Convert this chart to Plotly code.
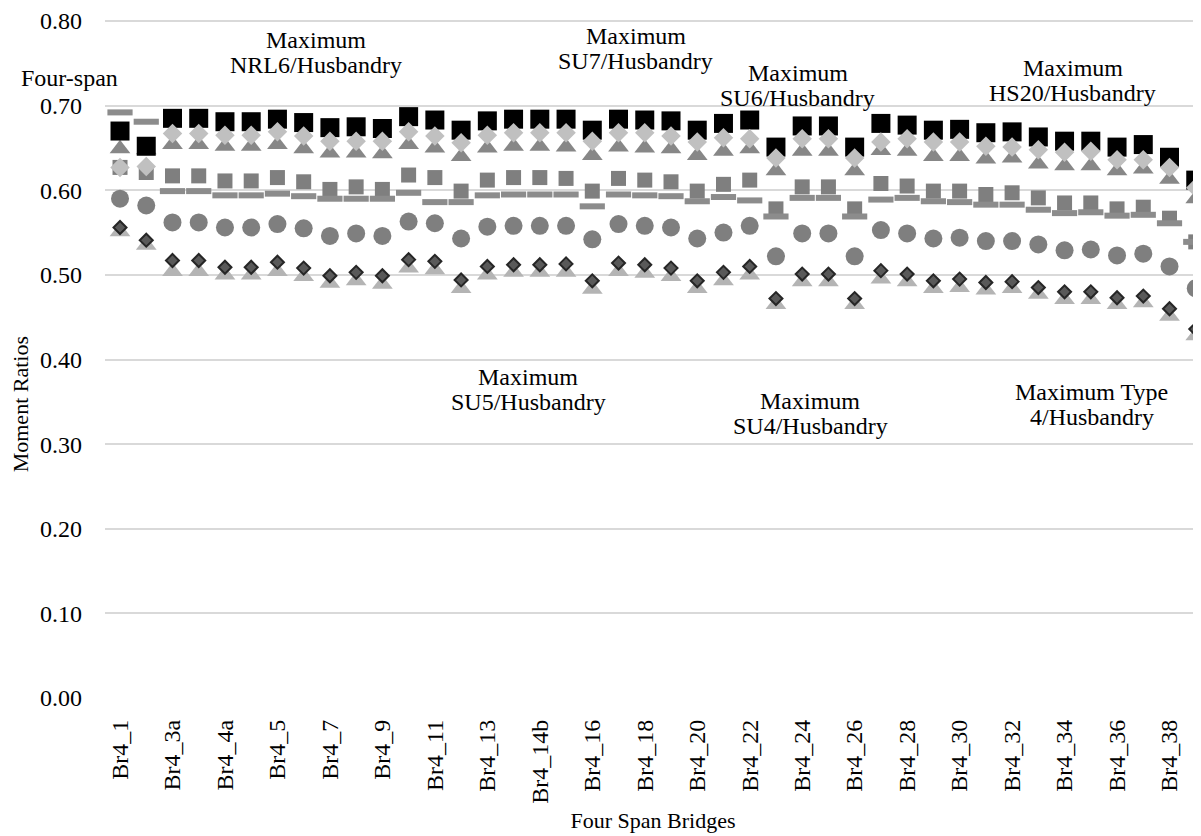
"""Moment ratios for four-span bridges, one marker series per truck / husbandry case."""

import plotly.graph_objects as go

FONT = "Liberation Serif, Times New Roman, serif"
FONT_SIZE = 24
TITLE_SIZE = 22

bridges = [
    "Br4_1", "Br4_2", "Br4_3a", "Br4_3b", "Br4_4a", "Br4_4b", "Br4_5", "Br4_6",
    "Br4_7", "Br4_8", "Br4_9", "Br4_10", "Br4_11", "Br4_12", "Br4_13",
    "Br4_14a", "Br4_14b", "Br4_15", "Br4_16", "Br4_17", "Br4_18", "Br4_19",
    "Br4_20", "Br4_21", "Br4_22", "Br4_23", "Br4_24", "Br4_25", "Br4_26",
    "Br4_27", "Br4_28", "Br4_29", "Br4_30", "Br4_31", "Br4_32", "Br4_33",
    "Br4_34", "Br4_35", "Br4_36", "Br4_37", "Br4_38", "Br4_39",
]

# series values
nrl6 = [0.670, 0.652, 0.685, 0.685, 0.681, 0.681, 0.684, 0.680, 0.674, 0.675,
        0.673, 0.687, 0.683, 0.671, 0.682, 0.684, 0.684, 0.684, 0.671, 0.684,
        0.683, 0.682, 0.671, 0.679, 0.683, 0.651, 0.676, 0.676, 0.651, 0.679,
        0.677, 0.671, 0.672, 0.668, 0.669, 0.663, 0.658, 0.658, 0.651, 0.654,
        0.639, 0.612]
su7 = [0.627, 0.628, 0.667, 0.667, 0.665, 0.665, 0.669, 0.664, 0.658, 0.658,
       0.658, 0.669, 0.664, 0.656, 0.665, 0.668, 0.668, 0.668, 0.658, 0.668,
       0.668, 0.664, 0.657, 0.662, 0.661, 0.638, 0.661, 0.661, 0.638, 0.657,
       0.661, 0.657, 0.657, 0.652, 0.651, 0.648, 0.645, 0.646, 0.636, 0.636,
       0.627, 0.603]
su6 = [0.649, 0.648, 0.654, 0.654, 0.652, 0.652, 0.654, 0.649, 0.644, 0.644,
       0.643, 0.654, 0.650, 0.640, 0.650, 0.652, 0.652, 0.651, 0.641, 0.651,
       0.650, 0.649, 0.641, 0.646, 0.649, 0.623, 0.646, 0.646, 0.623, 0.647,
       0.646, 0.640, 0.640, 0.637, 0.638, 0.631, 0.629, 0.629, 0.623, 0.625,
       0.613, 0.590]
hs20 = [0.627, 0.621, 0.617, 0.617, 0.611, 0.611, 0.615, 0.610, 0.601, 0.604,
        0.601, 0.618, 0.615, 0.599, 0.612, 0.615, 0.615, 0.614, 0.599, 0.614,
        0.612, 0.610, 0.599, 0.607, 0.612, 0.578, 0.604, 0.604, 0.578, 0.608,
        0.605, 0.599, 0.599, 0.595, 0.597, 0.591, 0.585, 0.585, 0.578, 0.580,
        0.567, 0.539]
four_span = [0.692, 0.681, 0.599, 0.599, 0.594, 0.594, 0.596, 0.593, 0.590, 0.590,
             0.590, 0.597, 0.586, 0.586, 0.594, 0.595, 0.595, 0.595, 0.581, 0.595,
             0.594, 0.593, 0.587, 0.592, 0.588, 0.569, 0.591, 0.591, 0.569, 0.589,
             0.591, 0.587, 0.586, 0.583, 0.583, 0.577, 0.573, 0.574, 0.570, 0.571,
             0.561, 0.539]
su5 = [0.590, 0.582, 0.562, 0.562, 0.556, 0.556, 0.560, 0.555, 0.546, 0.549,
       0.546, 0.563, 0.561, 0.543, 0.557, 0.558, 0.558, 0.558, 0.542, 0.560,
       0.558, 0.556, 0.543, 0.550, 0.558, 0.522, 0.549, 0.549, 0.522, 0.553,
       0.549, 0.543, 0.544, 0.540, 0.540, 0.536, 0.529, 0.530, 0.523, 0.525,
       0.510, 0.484]
su4 = [0.556, 0.541, 0.517, 0.517, 0.509, 0.509, 0.515, 0.508, 0.499, 0.503,
       0.499, 0.518, 0.516, 0.494, 0.510, 0.512, 0.512, 0.513, 0.493, 0.514,
       0.512, 0.508, 0.493, 0.503, 0.510, 0.472, 0.501, 0.501, 0.472, 0.505,
       0.501, 0.493, 0.495, 0.491, 0.492, 0.485, 0.480, 0.480, 0.473, 0.475,
       0.460, 0.436]
type4 = [0.551, 0.535, 0.504, 0.504, 0.500, 0.500, 0.504, 0.498, 0.490, 0.493,
         0.489, 0.508, 0.506, 0.484, 0.500, 0.503, 0.503, 0.503, 0.483, 0.504,
         0.502, 0.498, 0.484, 0.493, 0.500, 0.465, 0.492, 0.492, 0.465, 0.495,
         0.492, 0.484, 0.485, 0.482, 0.484, 0.477, 0.471, 0.471, 0.465, 0.467,
         0.451, 0.428]

# (name, values, symbol, size, fill, outline colour, outline width) — drawn bottom to top
SERIES = [
    ("Maximum Type 4/Husbandry", type4, "triangle-up", 18, "#b4b4b4", "#b4b4b4", 0),
    ("Maximum SU4/Husbandry", su4, "diamond", 10, "#595959", "#262626", 2),
    ("Maximum SU5/Husbandry", su5, "circle", 18, "#7f7f7f", "#7f7f7f", 0),
    ("Maximum HS20/Husbandry", hs20, "square", 15, "#7f7f7f", "#7f7f7f", 0),
    ("Four-span", four_span, "line-ew", 18, "#8c8c8c", "#8c8c8c", 6),
    ("Maximum SU6/Husbandry", su6, "triangle-up", 18, "#878787", "#878787", 0),
    ("Maximum NRL6/Husbandry", nrl6, "square", 19, "#000000", "#000000", 0),
    ("Maximum SU7/Husbandry", su7, "diamond", 15, "#c0c0c0", "#c0c0c0", 0),
]

fig = go.Figure()
for name, vals, symbol, size, fill, edge, edge_w in SERIES:
    fig.add_trace(
        go.Scatter(
            x=bridges,
            y=vals,
            mode="markers",
            name=name,
            marker=dict(symbol=symbol, size=size, color=fill,
                        line=dict(color=edge, width=edge_w)),
            cliponaxis=False,
        )
    )

# series labels as placed in the original chart, one annotation per text line
labels = [
    (["Maximum", "NRL6/Husbandry"], 7.47, [0.778, 0.7485]),
    (["Maximum", "SU7/Husbandry"], 19.66, [0.7824, 0.7532]),
    (["Maximum", "SU6/Husbandry"], 25.84, [0.7391, 0.7086]),
    (["Maximum", "HS20/Husbandry"], 36.32, [0.7449, 0.7145]),
    (["Maximum", "SU5/Husbandry"], 15.55, [0.3795, 0.3502]),
    (["Maximum", "SU4/Husbandry"], 26.30, [0.3514, 0.3209]),
    (["Maximum Type", "4/Husbandry"], 37.04, [0.3619, 0.3315]),
]
for lines, x, ys in labels:
    for line, y in zip(lines, ys):
        fig.add_annotation(x=x, y=y, text=line, showarrow=False,
                           xanchor="center", yanchor="middle",
                           font=dict(family=FONT, size=FONT_SIZE, color="#000000"))
fig.add_annotation(x=-0.0324, xref="paper", y=0.7332, text="Four-span",
                   showarrow=False, xanchor="center", yanchor="middle",
                   font=dict(family=FONT, size=FONT_SIZE, color="#000000"))
# y-axis title sits below the middle of the axis in the original
fig.add_annotation(x=-0.0776, xref="paper", y=0.347, text="Moment Ratios",
                   textangle=-90, showarrow=False, xanchor="center", yanchor="middle",
                   font=dict(family=FONT, size=TITLE_SIZE, color="#000000"))

# the page body adds an 8px margin, so the figure is sized to sit inside it
fig.update_layout(
    width=1193,
    height=828,
    margin=dict(l=97, r=0, t=6, b=138),
    paper_bgcolor="white",
    plot_bgcolor="white",
    showlegend=False,
    font=dict(family=FONT, size=FONT_SIZE, color="#000000"),
    xaxis=dict(
        type="category",
        categoryorder="array",
        categoryarray=bridges,
        range=[-0.572, 41.2],
        tickmode="array",
        tickvals=bridges[::2],
        ticktext=bridges[::2],
        tickangle=-90,
        tickfont=dict(family=FONT, size=FONT_SIZE),
        showgrid=False,
        zeroline=False,
        showline=False,
        ticks="",
        ticklabelstandoff=16,
        title=dict(text="Four Span Bridges", standoff=9,
                   font=dict(family=FONT, size=TITLE_SIZE)),
    ),
    yaxis=dict(
        range=[0, 0.8012],
        dtick=0.1,
        tickformat=".2f",
        tickfont=dict(family=FONT, size=FONT_SIZE),
        ticklabeloverflow="allow",
        showgrid=True,
        gridcolor="#d9d9d9",
        gridwidth=1.5,
        zeroline=False,
        showline=False,
        ticks="",
        ticklabelstandoff=22,
    ),
)

fig.write_html("out.html")
